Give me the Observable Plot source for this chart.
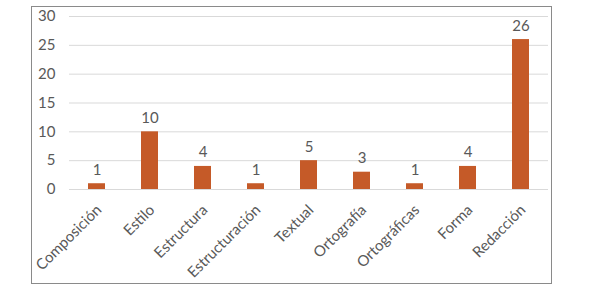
<!DOCTYPE html>
<html>
<head>
<meta charset="utf-8">
<script src="https://cdn.jsdelivr.net/npm/d3@7"></script>
<script src="https://cdn.jsdelivr.net/npm/@observablehq/plot@0.6"></script>
<style>
  html, body { margin: 0; padding: 0; background: #fff; }
  #wrap { position: relative; width: 589px; height: 291px; }
  #frame { position: absolute; left: 31px; top: 6px; width: 519px; height: 276px; border: 1.5px solid #8a8a8a; pointer-events: none; }
  #chart { position: absolute; left: 0; top: 0; }
</style>
</head>
<body>
<div id="wrap"><div id="chart"></div><div id="frame"></div></div>
<script>
const categories = ["Composición", "Estilo", "Estructura", "Estructuración", "Textual", "Ortografía", "Ortográficas", "Forma", "Redacción"];
const values = [1, 10, 4, 1, 5, 3, 1, 4, 26];
const yTicks = [0, 5, 10, 15, 20, 25, 30];

const data = categories.map((c, i) => ({category: c, value: values[i]}));
const font = "Lato, 'Open Sans', sans-serif";
const textColor = "#595959";

const chart = Plot.plot({
  width: 589,
  height: 291,
  marginLeft: 69,
  marginRight: 41,
  marginTop: 16,
  marginBottom: 102,
  style: {fontFamily: font, fontSize: "15px", color: textColor, background: "transparent"},
  x: {domain: categories, paddingInner: 0.68, paddingOuter: 0.34, axis: null},
  y: {domain: [0, 30], ticks: yTicks, axis: null},
  marks: [
    Plot.gridY(yTicks, {stroke: "#d9d9d9", strokeOpacity: 1, strokeWidth: 1}),
    Plot.axisY(yTicks, {tickSize: 0, tickPadding: 14, fontSize: 15, fill: textColor, label: null}),
    Plot.barY(data, {x: "category", y: "value", fill: "#c55a28"}),
    Plot.text(data, {x: "category", y: "value", text: d => String(d.value), lineAnchor: "bottom", dy: -9, fontSize: 15, fill: textColor}),
    Plot.text(data, {x: "category", y: () => 0, text: "category", rotate: -45, textAnchor: "end", lineAnchor: "middle", dx: 2, dy: 18, fontSize: 15, fill: textColor})
  ]
});
document.getElementById("chart").appendChild(chart);
</script>
</body>
</html>
